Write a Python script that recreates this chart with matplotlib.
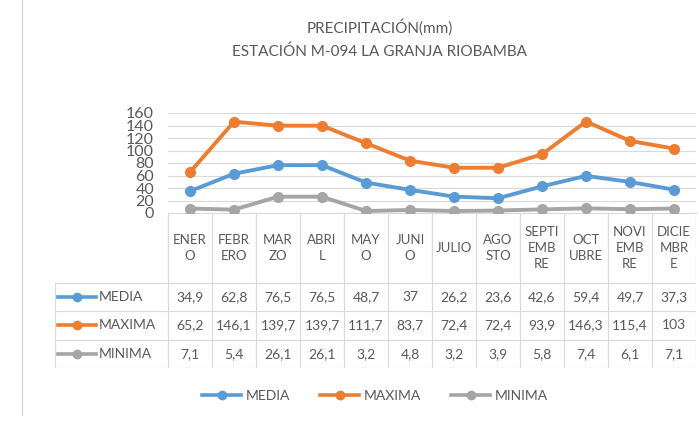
import numpy as np
import matplotlib
matplotlib.use("Agg")
import matplotlib.pyplot as plt
from matplotlib.lines import Line2D

plt.rcParams['font.family'] = ['Lato', 'DejaVu Sans']

# datos de precipitacion (mm)
meses = ["ENER\nO", "FEBR\nERO", "MAR\nZO", "ABRI\nL", "MAY\nO", "JUNI\nO",
         "JULIO", "AGO\nSTO", "SEPTI\nEMB\nRE", "OCT\nUBRE", "NOVI\nEMB\nRE", "DICIE\nMBR\nE"]
media = [34.9, 62.8, 76.5, 76.5, 48.7, 37, 26.2, 23.6, 42.6, 59.4, 49.7, 37.3]
maxima = [65.2, 146.1, 139.7, 139.7, 111.7, 83.7, 72.4, 72.4, 93.9, 146.3, 115.4, 103]
minima = [7.1, 5.4, 26.1, 26.1, 3.2, 4.8, 3.2, 3.9, 5.8, 7.4, 6.1, 7.1]
series = ["MEDIA", "MAXIMA", "MINIMA"]
colores = ["#5B9BD5", "#ED7D31", "#A5A5A5"]
yticks = list(range(0, 161, 20))

W, H = 699, 421
txt = "#595959"
grid = "#D9D9D9"

fig = plt.figure(figsize=(W / 100, H / 100), dpi=100)

def box(x0, y0, x1, y1):
    return [x0 / W, 1 - y1 / H, (x1 - x0) / W, (y1 - y0) / H]

# grafico de lineas
ax = fig.add_axes(box(168, 113, 696, 213))
x = np.arange(len(meses))
for vals, c in zip([media, maxima, minima], colores):
    ax.plot(x, vals, color=c, lw=2.8, marker="o", ms=7, zorder=3)
ax.set_xlim(-0.5, len(meses) - 0.5)
ax.set_ylim(0, 160)
ax.set_yticks(yticks)
ax.set_yticklabels([str(v) for v in yticks], fontsize=11.5, color=txt)
ax.set_xticks([])
ax.tick_params(axis="y", length=0, pad=10)
ax.grid(axis="y", color=grid, lw=0.8)
for s in ["top", "right", "left"]:
    ax.spines[s].set_visible(False)
ax.spines["bottom"].set_color(grid)

# tabla de datos
L, R, T = 55, 696, 213
col0 = 168
cw = (R - col0) / len(meses)
hh, rh = 70, 28.3
tax = fig.add_axes(box(L, T, R, T + hh + 3 * rh))
tax.set_xlim(L, R)
tax.set_ylim(T + hh + 3 * rh, T)
tax.axis("off")

bot = T + hh + 3 * rh
for i in range(len(meses) + 1):
    xe = col0 + i * cw
    tax.plot([xe, xe], [T, bot], color=grid, lw=0.8)
tax.plot([L, L], [T + hh, bot], color=grid, lw=0.8)
for j in range(4):
    ye = T + hh + j * rh
    tax.plot([L, R], [ye, ye], color=grid, lw=0.8)

for i, m in enumerate(meses):
    tax.text(col0 + (i + 0.5) * cw, T + hh / 2, m, ha="center", va="center",
             fontsize=9.5, color=txt, linespacing=1.35)

for j, (nombre, vals, c) in enumerate(zip(series, [media, maxima, minima], colores)):
    yc = T + hh + (j + 0.5) * rh
    tax.plot([L + 3, L + 41], [yc, yc], color=c, lw=2.6)
    tax.plot([L + 22], [yc], color=c, marker="o", ms=6)
    tax.text(L + 44, yc, nombre, ha="left", va="center", fontsize=10, color=txt)
    for i, v in enumerate(vals):
        s = ("%g" % v).replace(".", ",")
        tax.text(col0 + (i + 0.5) * cw, yc, s, ha="center", va="center",
                 fontsize=10, color=txt)

# borde izquierdo
fig.add_artist(Line2D([22 / W, 22 / W], [1 - 415 / H, 1], color=grid, lw=1))

# titulo
fig.text(380 / W, 1 - 27 / H, "PRECIPITACIÓN(mm)", ha="center", va="center",
         fontsize=11, color=txt)
fig.text(380 / W, 1 - 52 / H, "ESTACIÓN M-094 LA GRANJA RIOBAMBA", ha="center",
         va="center", fontsize=11, color=txt)

# leyenda
handles = [Line2D([], [], color=c, lw=2.6, marker="o", ms=6) for c in colores]
leg = fig.legend(handles, series, loc="center", bbox_to_anchor=(375 / W, 1 - 396 / H),
                 ncol=3, frameon=False, fontsize=10, handlelength=2.8,
                 columnspacing=2.2, handletextpad=0.3)
for t in leg.get_texts():
    t.set_color(txt)

fig.savefig("out.png", dpi=100)
